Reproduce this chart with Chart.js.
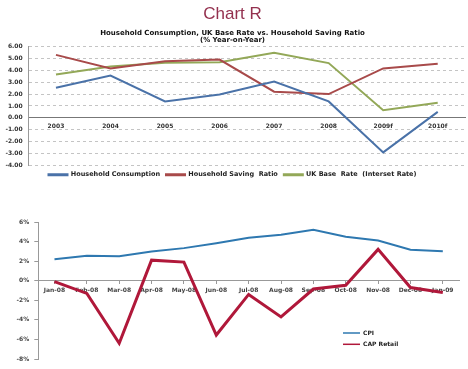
<!DOCTYPE html>
<html>
<head>
<meta charset="utf-8">
<script src="https://cdn.jsdelivr.net/npm/chart.js@4/dist/chart.umd.min.js"></script>
<style>
  body { margin: 0; background: #fff; width: 468px; height: 369px; overflow: hidden; }
  #top { position: absolute; left: 0; top: 0; width: 468px; height: 189px; }
  #bottom { position: absolute; left: 0; top: 210px; width: 468px; height: 159px; }
</style>
</head>
<body>
<div id="top"><canvas id="rates"></canvas></div>
<div id="bottom"><canvas id="retail"></canvas></div>
<script>
//
// Data
//

var years = ['2003', '2004', '2005', '2006', '2007', '2008', '2009f', '2010f'];
var consumption = [2.53, 3.55, 1.38, 1.97, 3.05, 1.38, -2.9, 0.5];
var savingRatio = [5.29, 4.15, 4.75, 4.89, 2.2, 2.0, 4.15, 4.55];
var baseRate = [3.64, 4.32, 4.63, 4.66, 5.46, 4.6, 0.64, 1.26];

var months = ['Jan-08', 'Feb-08', 'Mar-08', 'Apr-08', 'May-08', 'Jun-08', 'Jul-08',
	'Aug-08', 'Sep-08', 'Oct-08', 'Nov-08', 'Dec-08', 'Jan-09'];
var cpi = [2.2, 2.54, 2.5, 2.98, 3.33, 3.84, 4.4, 4.7, 5.2, 4.5, 4.1, 3.16, 3.0];
var capRetail = [-0.1, -1.3, -6.4, 2.1, 1.9, -5.55, -1.4, -3.7, -0.85, -0.47, 3.2, -0.7, -1.2];

var tickFont = { family: 'DejaVu Sans', size: 6, weight: 'bold' };

//
// Top chart
//

function line(label, data, color, width) {
	return {
		label: label,
		data: data,
		borderColor: color,
		backgroundColor: color,
		borderWidth: width,
		pointRadius: 0,
		tension: 0
	};
}

new Chart(document.getElementById('rates'), {
	type: 'line',
	data: {
		labels: years,
		datasets: [
			line('Household Consumption', consumption, '#4a72a8', 2),
			line('Household Saving  Ratio', savingRatio, '#a84a4a', 2),
			line('UK Base  Rate  (Interset Rate)', baseRate, '#93a858', 2)
		]
	},
	options: {
		responsive: true,
		maintainAspectRatio: false,
		animation: false,
		layout: { padding: { left: 0, right: 3, top: 0, bottom: 1 } },
		plugins: {
			title: {
				display: true,
				text: 'Chart R',
				color: '#93304e',
				font: { family: 'Liberation Sans', size: 17, weight: 'normal' },
				padding: { top: 4, bottom: 5 }
			},
			subtitle: {
				display: true,
				text: ['Household Consumption, UK Base Rate vs. Household Saving Ratio', '(% Year-on-Year)'],
				color: '#111',
				font: { family: 'DejaVu Sans', size: 7, weight: 'bold', lineHeight: 1.0 },
				padding: { top: 0, bottom: 3 }
			},
			legend: {
				position: 'bottom',
				labels: {
					boxWidth: 19,
					boxHeight: 1,
					padding: 6,
					color: '#222',
					font: { family: 'DejaVu Sans', size: 6.5, weight: 'bold' }
				}
			},
			tooltip: { enabled: false }
		},
		scales: {
			x: {
				position: { y: 0 },
				offset: true,
				grid: { display: false, drawTicks: false },
				border: { color: '#777', width: 1 },
				ticks: { color: '#333', font: tickFont, padding: 5, maxRotation: 0 }
			},
			y: {
				min: -4,
				max: 6,
				ticks: {
					stepSize: 1,
					color: '#333',
					font: tickFont,
					padding: 6,
					callback: function(v) { return v.toFixed(2); }
				},
				grid: { color: '#c4c4c4', drawTicks: false },
				border: { color: '#999', dash: [3, 3] },
				afterFit: function(scale) { scale.width = 28.7; }
			}
		}
	}
});

//
// Bottom chart
//

// Legend drawn inside the plot, lower right
var insideLegend = {
	id: 'insideLegend',
	afterDraw: function(chart) {
		var ctx = chart.ctx;
		var area = chart.chartArea;
		var x = area.right - 116;
		var y = area.bottom - 26;
		ctx.save();
		ctx.font = 'bold 6px "DejaVu Sans"';
		ctx.textBaseline = 'middle';
		chart.data.datasets.forEach(function(ds, i) {
			var yy = y + i * 11.3;
			ctx.strokeStyle = ds.borderColor;
			ctx.lineWidth = 1.5;
			ctx.beginPath();
			ctx.moveTo(x, yy);
			ctx.lineTo(x + 17, yy);
			ctx.stroke();
			ctx.fillStyle = '#222';
			ctx.fillText(ds.label, x + 20, yy);
		});
		ctx.restore();
	}
};

new Chart(document.getElementById('retail'), {
	type: 'line',
	data: {
		labels: months,
		datasets: [
			line('CPI', cpi, '#2e78b0', 2),
			line('CAP Retail', capRetail, '#b0183a', 3)
		]
	},
	options: {
		responsive: true,
		maintainAspectRatio: false,
		animation: false,
		layout: { padding: { left: 0, right: 9, top: 12, bottom: 10 } },
		plugins: {
			legend: { display: false },
			tooltip: { enabled: false }
		},
		scales: {
			x: {
				position: { y: 0 },
				offset: true,
				grid: { drawOnChartArea: false, drawTicks: true, tickLength: 3, color: '#999' },
				border: { color: '#999', width: 1 },
				ticks: { color: '#444', font: tickFont, padding: 3, maxRotation: 0, autoSkip: false }
			},
			y: {
				min: -8,
				max: 6,
				ticks: {
					stepSize: 2,
					color: '#444',
					font: tickFont,
					padding: 5,
					callback: function(v) { return v + '%'; }
				},
				grid: { drawOnChartArea: false, tickLength: 4, color: '#999' },
				border: { color: '#999' },
				afterFit: function(scale) { scale.width = 38.3; }
			}
		}
	},
	plugins: [insideLegend]
});
</script>
</body>
</html>
